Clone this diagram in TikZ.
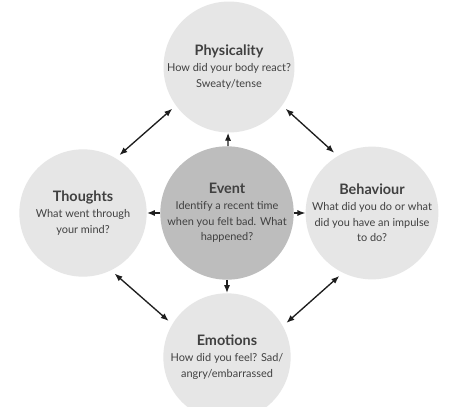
\documentclass[tikz,border=0pt]{standalone}
\usepackage{fontspec}
\setmainfont{Lato}
\usetikzlibrary{arrows.meta}
\definecolor{disc}{HTML}{E6E6E6}
\definecolor{hub}{HTML}{BDBDBD}
\definecolor{ink}{HTML}{1E1E1E}
\newcommand{\circhead}[1]{{\fontsize{10.8}{13}\selectfont\bfseries #1}}

\begin{document}
\begin{tikzpicture}[x=0.75pt,y=-0.75pt,>={Latex[length=6pt,width=4.6pt]},
  font=\fontsize{8.2}{11.8}\selectfont]
 \tikzset{bubble/.style={circle,fill=disc,minimum size=95.5pt,inner sep=0pt,
   align=center,text=ink!85!white}}
 \fill[white] (0,0) rectangle (468,407);
 \useasboundingbox (0,0) rectangle (468,407);
 \node[bubble] (phys) at (229,67)
  {\circhead{Physicality}\\How did your body react?\\Sweaty/tense};
 \node[bubble] (thoughts) at (83,213)
  {\circhead{Thoughts}\\What went through\\your mind?};
 \node[bubble,fill=hub] (event) at (227,213)
  {\circhead{Event}\\Identify a recent time\\when you felt bad. What\\happened?};
 \node[bubble] (behav) at (372,213)
  {\circhead{Behaviour}\\What did you do or what\\did you have an impulse\\to do?};
 \node[bubble] (emo) at (227,357)
  {\circhead{Emotions}\\How did you feel? Sad/\\angry/embarrassed};
 % from the event outwards
 \foreach \n in {phys,thoughts,behav,emo}
  \draw[->,line width=1pt,ink] (event) -- (\n);
 % round the cycle
 \draw[<->,line width=1pt,ink,shorten <=3.5pt,shorten >=3.5pt] (thoughts.59) -- (phys.216);
 \draw[<->,line width=1pt,ink,shorten <=3.5pt,shorten >=3.5pt] (phys.324) -- (behav.121);
 \draw[<->,line width=1pt,ink,shorten <=3.5pt,shorten >=3.5pt] (thoughts.296) -- (emo.149);
 \draw[<->,line width=1pt,ink,shorten <=3.5pt,shorten >=3.5pt] (behav.244) -- (emo.29);
\end{tikzpicture}
\end{document}
